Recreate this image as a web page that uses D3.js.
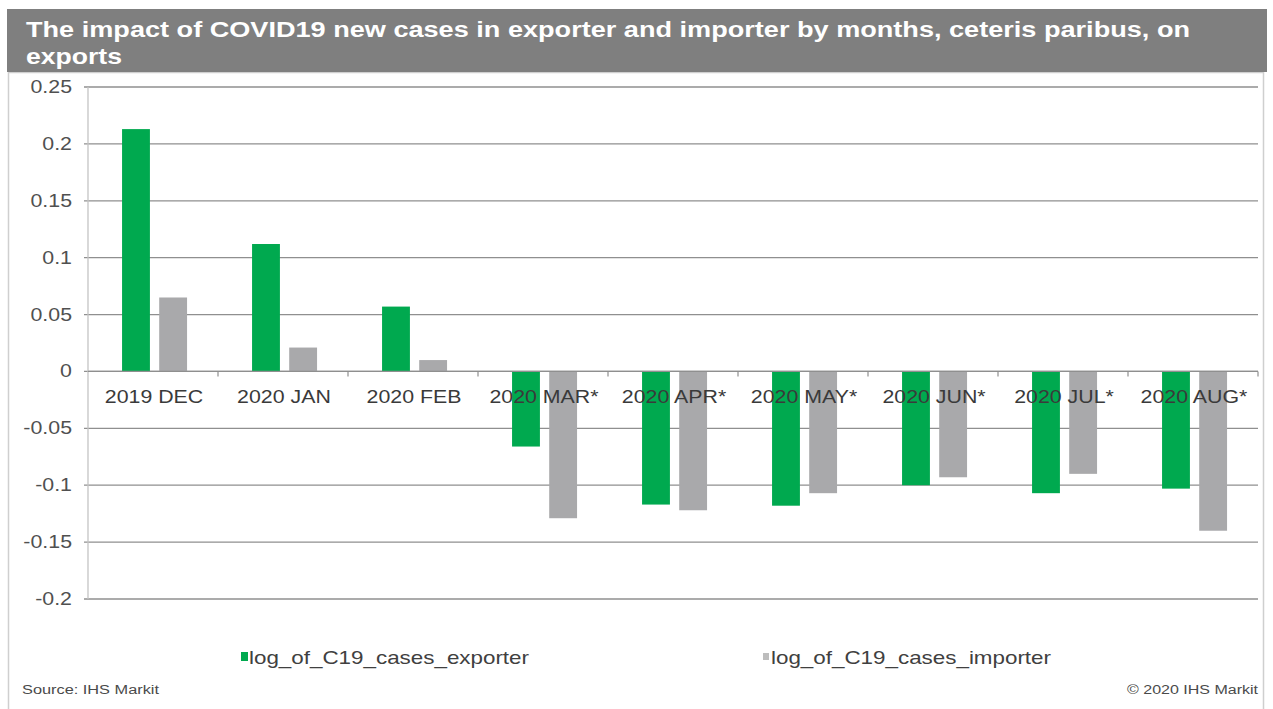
<!DOCTYPE html>
<html>
<head>
<meta charset="utf-8">
<script src="https://cdn.jsdelivr.net/npm/d3@7"></script>
<style>
  html, body { margin: 0; padding: 0; background: #fff; }
  svg { display: block; }
  text { font-family: "Liberation Sans", Arial, sans-serif; }
</style>
</head>
<body>
<svg id="chart" width="1273" height="709"></svg>
<script>
// Monthly effect of COVID-19 new cases on exports
const categories = ["2019 DEC", "2020 JAN", "2020 FEB", "2020 MAR*", "2020 APR*",
                    "2020 MAY*", "2020 JUN*", "2020 JUL*", "2020 AUG*"];
const seriesNames = ["log_of_C19_cases_exporter", "log_of_C19_cases_importer"];
const exporterValues = [0.213, 0.112, 0.057, -0.066, -0.117, -0.118, -0.100, -0.107, -0.103];
const importerValues = [0.065, 0.021, 0.010, -0.129, -0.122, -0.107, -0.093, -0.090, -0.140];
const yTickValues = [0.25, 0.2, 0.15, 0.1, 0.05, 0, -0.05, -0.1, -0.15, -0.2];
const yTickLabels = ["0.25", "0.2", "0.15", "0.1", "0.05", "0", "-0.05", "-0.1", "-0.15", "-0.2"];
const titleLines = ["The impact of COVID19 new cases in exporter and importer by months, ceteris paribus, on",
                    "exports"];
const sourceText = "Source: IHS Markit";
const copyrightText = "\u00A9 2020 IHS Markit";

const colors = ["#00a94f", "#a9a9ab"];
const svg = d3.select("#chart");

const plot = { left: 88, right: 1258, top: 87, bottom: 599 };
const sx = 1.22; // horizontal stretch of the typeface

// text helper: places a string at (x, y) with a horizontally widened face
function label(g, str, x, y, opts) {
  return g.append("text")
    .attr("transform", `translate(${x},${y}) scale(${opts.sx || sx},1)`)
    .attr("text-anchor", opts.anchor || "start")
    .attr("font-size", opts.size)
    .attr("font-weight", opts.weight || "normal")
    .attr("fill", opts.fill || "#404040")
    .text(str);
}

// frame
svg.append("rect")
  .attr("x", 8.5).attr("y", 72.5).attr("width", 1255).attr("height", 650)
  .attr("fill", "none").attr("stroke", "#cfcfcf").attr("stroke-width", 1.5);

// title banner
svg.append("rect")
  .attr("x", 7).attr("y", 9).attr("width", 1260).attr("height", 63)
  .attr("fill", "#7f7f7f");
const titleWidths = [1164, 96];
titleLines.forEach((line, i) => {
  svg.append("text")
    .attr("x", 26).attr("y", 37 + i * 27)
    .attr("font-size", 22.5).attr("font-weight", "bold")
    .attr("fill", "#ffffff")
    .attr("textLength", titleWidths[i])
    .attr("lengthAdjust", "spacingAndGlyphs")
    .text(line);
});

// scales
const x0 = d3.scaleBand().domain(categories).range([plot.left, plot.right]).padding(0);
const x1 = d3.scaleBand().domain(seriesNames)
  .range([x0.bandwidth() * 0.262, x0.bandwidth() * 0.762]).paddingInner(0.25).paddingOuter(0);
const y = d3.scaleLinear().domain([-0.2, 0.25]).range([plot.bottom, plot.top]);

// horizontal gridlines with short outward ticks
svg.append("g").selectAll("line")
  .data(yTickValues)
  .join("line")
  .attr("x1", plot.left - 4).attr("x2", plot.right)
  .attr("y1", d => y(d)).attr("y2", d => y(d))
  .attr("stroke", "#8f8f8f").attr("stroke-width", 1.3);

// vertical value axis line
svg.append("line")
  .attr("x1", plot.left).attr("x2", plot.left)
  .attr("y1", plot.top).attr("y2", plot.bottom)
  .attr("stroke", "#c4c4c4").attr("stroke-width", 1.3);

// y tick labels
const yLab = svg.append("g");
yTickValues.forEach((v, i) => {
  label(yLab, yTickLabels[i], 72, y(v) + 6, { size: 17.5, anchor: "end", fill: "#505050" });
});

// bars
const rows = categories.map((c, i) => ({ cat: c, values: [exporterValues[i], importerValues[i]] }));
const groups = svg.append("g").selectAll("g")
  .data(rows)
  .join("g")
  .attr("transform", d => `translate(${x0(d.cat)},0)`);
groups.selectAll("rect")
  .data(d => d.values.map((v, k) => ({ key: seriesNames[k], v, k })))
  .join("rect")
  .attr("x", d => x1(d.key))
  .attr("width", x1.bandwidth())
  .attr("y", d => y(Math.max(0, d.v)))
  .attr("height", d => Math.abs(y(d.v) - y(0)))
  .attr("fill", d => colors[d.k]);

// category axis on the zero line
const zeroY = y(0);
svg.append("line")
  .attr("x1", plot.left).attr("x2", plot.right)
  .attr("y1", zeroY).attr("y2", zeroY)
  .attr("stroke", "#8f8f8f").attr("stroke-width", 1.3);
svg.append("g").selectAll("line")
  .data(categories.slice(1).concat(["__end"]))
  .join("line")
  .attr("x1", d => d === "__end" ? plot.right : x0(d))
  .attr("x2", d => d === "__end" ? plot.right : x0(d))
  .attr("y1", zeroY).attr("y2", zeroY + 5)
  .attr("stroke", "#8f8f8f").attr("stroke-width", 1.2);

const catLab = svg.append("g");
categories.forEach(c => {
  label(catLab, c, x0(c) + x0.bandwidth() / 2 + 1, zeroY + 32, { size: 17.5, anchor: "middle", fill: "#3a3a3a" });
});

// legend
const legend = svg.append("g");
const legendItems = [
  { x: 241, name: seriesNames[0], color: colors[0], w: 7, h: 9, dy: 0 },
  { x: 763, name: seriesNames[1], color: "#bdbdbd", w: 6, h: 7, dy: 1 }
];
legendItems.forEach(it => {
  legend.append("rect")
    .attr("x", it.x).attr("y", 652 + it.dy).attr("width", it.w).attr("height", it.h)
    .attr("fill", it.color);
  legend.append("text")
    .attr("x", it.x + 8).attr("y", 664)
    .attr("font-size", 18.5).attr("fill", "#404040")
    .attr("textLength", 280).attr("lengthAdjust", "spacingAndGlyphs")
    .text(it.name);
});

// footer
svg.append("text")
  .attr("x", 22).attr("y", 694).attr("font-size", 12).attr("fill", "#4a4a4a")
  .attr("textLength", 137).attr("lengthAdjust", "spacingAndGlyphs")
  .text(sourceText);
svg.append("text")
  .attr("x", 1127).attr("y", 694).attr("font-size", 12).attr("fill", "#4a4a4a")
  .attr("textLength", 131).attr("lengthAdjust", "spacingAndGlyphs")
  .text(copyrightText);
</script>
</body>
</html>
